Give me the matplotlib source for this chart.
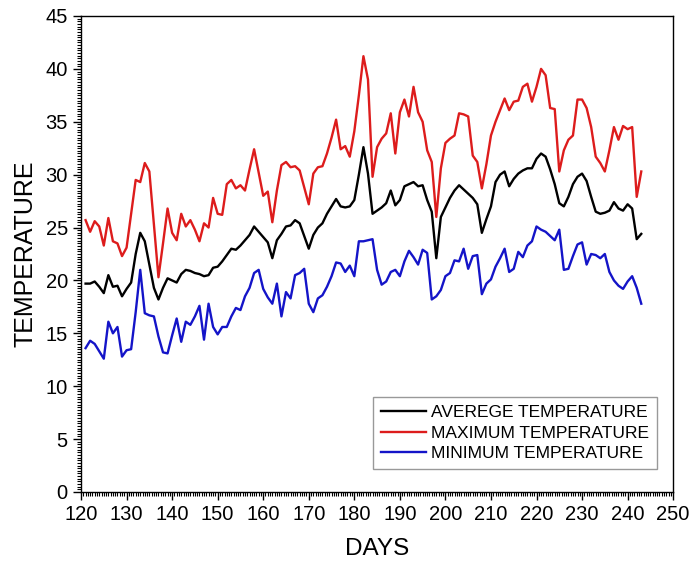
import matplotlib
matplotlib.use("Agg")
import matplotlib.pyplot as plt
from matplotlib.ticker import MultipleLocator

plt.rcParams["font.family"] = ["Liberation Sans", "DejaVu Sans"]

days = list(range(121, 244))

t_max = [
    25.7, 24.6, 25.6, 25.1, 23.3, 25.9, 23.7, 23.5, 22.3, 23.1,
    26.3, 29.5, 29.3, 31.1, 30.3, 25.3, 20.3, 23.5, 26.8, 24.5,
    23.8, 26.3, 25.1, 25.7, 24.8, 23.7, 25.4, 25.0, 27.8, 26.3,
    26.2, 29.1, 29.5, 28.7, 29.0, 28.5, 30.5, 32.4, 30.2, 28.0,
    28.4, 25.5, 28.5, 30.9, 31.2, 30.7, 30.8, 30.4, 28.8, 27.2,
    30.1, 30.7, 30.8, 32.0, 33.5, 35.2, 32.4, 32.7, 31.7, 34.1,
    37.5, 41.2, 39.0, 29.8, 32.6, 33.4, 33.9, 35.8, 32.0, 35.9,
    37.1, 35.5, 38.3, 35.9, 35.0, 32.3, 31.2, 26.0, 30.6, 33.0,
    33.4, 33.7, 35.8, 35.7, 35.5, 31.8, 31.2, 28.7, 31.0, 33.7,
    35.0, 36.1, 37.2, 36.1, 36.9, 37.0, 38.3, 38.6, 36.9, 38.3,
    40.0, 39.4, 36.3, 36.2, 30.3, 32.3, 33.3, 33.7, 37.1, 37.1,
    36.3, 34.5, 31.7, 31.1, 30.3, 32.3, 34.5, 33.3, 34.6, 34.3,
    34.5, 27.9, 30.3,
]

t_avg = [
    19.7, 19.7, 19.9, 19.4, 18.8, 20.5, 19.4, 19.5, 18.5, 19.2,
    19.8, 22.5, 24.5, 23.7, 21.5, 19.3, 18.2, 19.3, 20.2, 20.0,
    19.8, 20.6, 21.0, 20.9, 20.7, 20.6, 20.4, 20.5, 21.2, 21.3,
    21.8, 22.4, 23.0, 22.9, 23.3, 23.8, 24.3, 25.1, 24.6, 24.1,
    23.6, 22.1, 23.8, 24.4, 25.1, 25.2, 25.7, 25.4, 24.2, 23.0,
    24.3, 25.0, 25.4, 26.3, 27.0, 27.7, 27.0, 26.9, 27.0, 27.6,
    30.0, 32.6, 30.1, 26.3, 26.6, 26.9, 27.3, 28.5, 27.1, 27.6,
    28.9, 29.1, 29.3, 28.9, 29.0, 27.6, 26.5, 22.1, 26.0, 26.9,
    27.8, 28.5, 29.0, 28.6, 28.2, 27.8, 27.2, 24.5, 25.8, 27.0,
    29.3, 30.0, 30.3, 28.9, 29.6, 30.1, 30.4, 30.6, 30.6, 31.5,
    32.0, 31.7, 30.5, 29.1, 27.3, 27.0, 27.9, 29.1, 29.8, 30.1,
    29.4, 27.9, 26.5, 26.3, 26.4, 26.6, 27.4, 26.8, 26.6, 27.2,
    26.8, 23.9, 24.4,
]

t_min = [
    13.6, 14.3, 14.0, 13.3, 12.6, 16.1, 15.0, 15.6, 12.8, 13.4,
    13.5, 17.0, 21.0, 16.9, 16.7, 16.6, 14.7, 13.2, 13.1, 14.8,
    16.4, 14.2, 16.1, 15.8, 16.6, 17.6, 14.4, 17.8, 15.6, 14.9,
    15.6, 15.6, 16.6, 17.4, 17.2, 18.5, 19.3, 20.7, 21.0, 19.2,
    18.4, 17.8, 19.7, 16.6, 18.9, 18.3, 20.5, 20.7, 21.1, 17.8,
    17.0, 18.3, 18.6, 19.4, 20.4, 21.7, 21.6, 20.8, 21.4, 20.4,
    23.7, 23.7, 23.8, 23.9, 21.0, 19.6, 19.9, 20.8, 21.0, 20.4,
    21.8, 22.8, 22.2, 21.5, 22.9, 22.6, 18.2, 18.5, 19.1, 20.4,
    20.7, 21.9, 21.8, 23.0, 21.1, 22.3, 22.4, 18.7, 19.7, 20.1,
    21.3, 22.1, 23.0, 20.8, 21.1, 22.7, 22.2, 23.3, 23.7, 25.1,
    24.8, 24.6, 24.2, 23.8, 24.8, 21.0, 21.1, 22.3, 23.4, 23.6,
    21.5, 22.5, 22.4, 22.1, 22.5, 20.8, 20.0, 19.5, 19.2, 19.9,
    20.4, 19.3, 17.8,
]

fig = plt.figure(figsize=(6.89, 5.67), dpi=100)
ax = fig.add_axes([0.1176, 0.1323, 0.8594, 0.8395])

ax.plot(days, t_avg, color="black", linewidth=1.7, label="AVEREGE TEMPERATURE")
ax.plot(days, t_max, color="#dd1c1c", linewidth=1.7, label="MAXIMUM TEMPERATURE")
ax.plot(days, t_min, color="#1414c8", linewidth=1.7, label="MINIMUM TEMPERATURE")

ax.set_xlim(120, 250)
ax.set_ylim(0, 45)
ax.xaxis.set_major_locator(MultipleLocator(10))
ax.xaxis.set_minor_locator(MultipleLocator(0.5))
ax.yaxis.set_major_locator(MultipleLocator(5))
ax.yaxis.set_minor_locator(MultipleLocator(0.25))
ax.tick_params(which="major", direction="out", length=6, width=1.0,
               labelsize=14.5, top=False, right=False)
ax.tick_params(which="minor", direction="out", length=3, width=0.8,
               top=False, right=False)
for side in ax.spines.values():
    side.set_linewidth(1.0)

ax.set_xlabel("DAYS", fontsize=17.5, labelpad=10)
ax.set_ylabel("TEMPERATURE", fontsize=18, labelpad=6)

leg = ax.legend(loc="lower right", bbox_to_anchor=(0.972, 0.048),
                borderaxespad=0, fontsize=12.5, frameon=True, fancybox=False,
                edgecolor="#808080", handlelength=2.6, handletextpad=0.25,
                labelspacing=0.32, borderpad=0.45)
leg.get_frame().set_linewidth(1.0)

fig.savefig("out.png", dpi=100)
